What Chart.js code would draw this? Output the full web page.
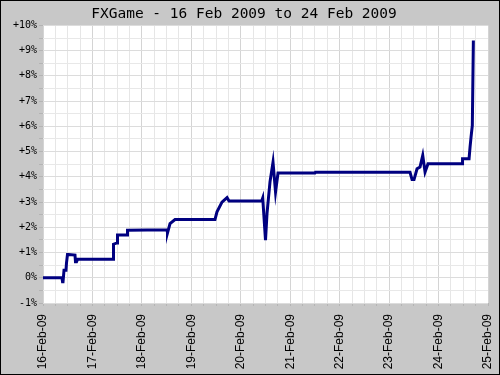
<!DOCTYPE html>
<html>
<head>
<meta charset="utf-8">
<script src="https://cdn.jsdelivr.net/npm/chart.js@4.4.1/dist/chart.umd.min.js"></script>
<style>
  html, body { margin: 0; padding: 0; background: #c8c8c8; }
  #wrap { width: 500px; height: 375px; }
</style>
</head>
<body>
<div id="wrap"><canvas id="fx" width="500" height="375"></canvas></div>
<script>
/* FXGame 累積リターン: 16 Feb 2009 〜 24 Feb 2009 */

const TITLE = "FXGame - 16 Feb 2009 to 24 Feb 2009";
const DAY_LABELS = ["16-Feb-09", "17-Feb-09", "18-Feb-09", "19-Feb-09", "20-Feb-09",
  "21-Feb-09", "22-Feb-09", "23-Feb-09", "24-Feb-09", "25-Feb-09"];
const Y_LABELS = ["-1%", "0%", "+1%", "+2%", "+3%", "+4%", "+5%", "+6%", "+7%", "+8%", "+9%", "+10%"];

// 16-Feb 00:00 からの経過日数
const dayOffsets = [
  0, 0.384, 0.395, 0.405, 0.425, 0.465, 0.475, 0.495, 0.516, 0.647, 0.657, 0.678, 0.698, 0.708,
  1.416, 1.426, 1.497, 1.507, 1.699, 1.709,
  2.508, 2.518, 2.569, 2.67,
  3.479, 3.519, 3.62, 3.722, 3.762,
  4.423, 4.444, 4.5, 4.531, 4.591, 4.652, 4.703, 4.753,
  5.5, 5.51,
  7.423, 7.464, 7.504, 7.565, 7.625, 7.68, 7.727, 7.787,
  8.475, 8.485, 8.617, 8.637, 8.657, 8.683, 8.704
];
// 累積リターン(%)
const returnsPct = [
  0, 0, -0.16, -0.16, 0.30, 0.30, 0.58, 0.92, 0.92, 0.90, 0.63, 0.63, 0.73, 0.73,
  0.73, 1.33, 1.38, 1.69, 1.69, 1.88,
  1.90, 1.78, 2.15, 2.31,
  2.31, 2.61, 3.00, 3.18, 3.04,
  3.04, 3.16, 1.49, 2.56, 3.80, 4.58, 3.40, 4.15,
  4.15, 4.18,
  4.18, 3.89, 3.89, 4.32, 4.39, 4.85, 4.19, 4.52,
  4.52, 4.72, 4.72, 5.18, 5.57, 6.04, 9.40
];

const points = dayOffsets.map((d, i) => ({ x: d, y: returnsPct[i] }));

// 軸ラベル分の自動余白を無くしてプロット枠を固定
const noPad = (s) => {
  s.paddingLeft = 0;
  s.paddingRight = 0;
  s.paddingTop = 0;
  s.paddingBottom = 0;
};

const bgPlugin = {
  id: "fxBg",
  beforeDraw(chart) {
    const ctx = chart.ctx;
    const a = chart.chartArea;
    ctx.save();
    ctx.fillStyle = "#c8c8c8";
    ctx.fillRect(0, 0, chart.width, chart.height);
    ctx.fillStyle = "#ffffff";
    ctx.fillRect(a.left, a.top, a.right - a.left, a.bottom - a.top);
    ctx.restore();
  },
  afterDraw(chart) {
    const ctx = chart.ctx;
    ctx.save();
    ctx.strokeStyle = "#000000";
    ctx.lineWidth = 1;
    ctx.strokeRect(0.5, 0.5, chart.width - 1, chart.height - 1);
    ctx.restore();
  },
};

new Chart(document.getElementById("fx"), {
  type: "line",
  data: {
    datasets: [
      { data: points, borderColor: "#000080", borderWidth: 3, pointRadius: 0, tension: 0, fill: false },
    ],
  },
  options: {
    responsive: false,
    animation: false,
    layout: { padding: { right: 12 } },
    plugins: {
      legend: { display: false },
      tooltip: { enabled: false },
      title: {
        display: true,
        text: TITLE,
        color: "#000000",
        font: { family: "'DejaVu Sans Mono', monospace", size: 14.5, weight: "normal", lineHeight: 1.2 },
        padding: { top: 6, bottom: 2 },
      },
    },
    scales: {
      x: {
        type: "linear",
        min: 0,
        max: 9,
        afterFit: (s) => { s.height = 72; noPad(s); },
        border: { display: false },
        grid: {
          color: (c) => (Number.isInteger(c.tick.value) ? "#d4d4d4" : "#e6e6e6"),
          tickColor: "#b4b4b4",
          tickLength: 3,
        },
        ticks: {
          stepSize: 0.25,
          autoSkip: false,
          minRotation: 90,
          maxRotation: 90,
          padding: 8,
          color: "#000000",
          font: { family: "'Liberation Sans', Arial, sans-serif", size: 12 },
          callback: (v) => (Number.isInteger(v) ? DAY_LABELS[v] : ""),
        },
      },
      y: {
        min: -1,
        max: 10,
        afterFit: (s) => { s.width = 43; noPad(s); },
        border: { display: false },
        grid: {
          color: (c) => (Number.isInteger(c.tick.value) ? "#dcdcdc" : "#e8e8e8"),
          tickColor: "#b4b4b4",
          tickLength: 4,
        },
        ticks: {
          stepSize: 0.5,
          autoSkip: false,
          padding: 2,
          color: "#000000",
          font: { family: "'DejaVu Sans Mono', monospace", size: 10 },
          callback: (v) => (Number.isInteger(v) ? Y_LABELS[v + 1] : ""),
        },
      },
    },
  },
  plugins: [bgPlugin],
});
</script>
</body>
</html>
